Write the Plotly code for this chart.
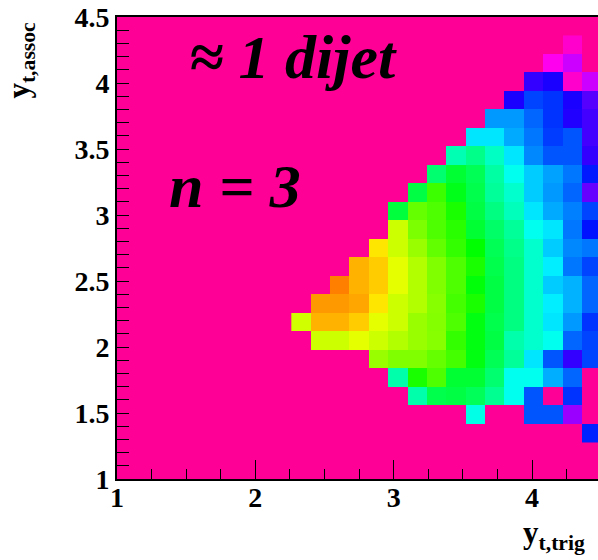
import colorsys
import numpy as np
import plotly.graph_objects as go

# Binning of the rapidity axes: 25 bins of width 0.14 starting at y_t = 1
BIN_WIDTH = 0.14
col_first, col_last = 9, 24      # populated trigger bins
row_first, row_last = 2, 23      # populated associated bins

x_edges = np.round(1 + BIN_WIDTH * np.arange(col_first, col_last + 2), 4)
y_edges = np.round(1 + BIN_WIDTH * np.arange(row_first, row_last + 2), 4)

N = None
# Pair density (arbitrary units), one list per associated-y_t bin, bottom to top;
# entries run over trigger bins col_first..col_last, None = empty bin
density = [
    [N, N, N, N, N, N, N, N, N, N, N, N, N, N, N, 88],
    [N, N, N, N, N, N, N, N, N, 146, N, N, 100, 100, 44, N],
    [N, N, N, N, N, N, 160, 182, 184, 179, 166, 144, 100, N, 92, N],
    [N, N, N, N, N, 160, 206, 218, 188, 188, 174, 144, 144, 121, 104, N],
    [N, N, N, N, 236, 230, 230, 224, 216, 196, 180, 164, 134, 100, 68, 96],
    [N, 248, 248, 254, 248, 242, 236, 232, 212, 196, 184, 160, 152, 144, 104, 96],
    [249, 278, 278, 272, 254, 248, 236, 231, 218, 196, 182, 170, 152, 134, 116, 92],
    [N, 284, 284, 281, 266, 248, 242, 232, 216, 206, 184, 170, 152, 136, 122, 104],
    [N, N, 290, 278, 272, 254, 242, 230, 218, 198, 184, 170, 152, 128, 122, 104],
    [N, N, N, 278, 272, 254, 242, 230, 218, 206, 182, 170, 152, 136, 108, 96],
    [N, N, N, N, 266, 248, 236, 223, 212, 200, 180, 168, 152, 128, 112, 108],
    [N, N, N, N, N, 248, 229, 218, 210, 188, 176, 164, 144, 134, 108, 84],
    [N, N, N, N, N, 186, 224, 218, 206, 184, 170, 156, 134, 120, 110, 96],
    [N, N, N, N, N, N, 184, 214, 194, 182, 164, 152, 128, 116, 104, 56],
    [N, N, N, N, N, N, N, 174, 188, 180, 162, 144, 128, 118, 108, 86],
    [N, N, N, N, N, N, N, N, 158, 168, 154, 134, 112, 100, 100, 68],
    [N, N, N, N, N, N, N, N, N, 134, 134, 120, 108, 94, 100, 64],
    [N, N, N, N, N, N, N, N, N, N, 116, 116, 104, 92, 72, 64],
    [N, N, N, N, N, N, N, N, N, N, N, 74, 96, 92, 74, 60],
    [N, N, N, N, N, N, N, N, N, N, N, N, 68, 74, 8, 32],
    [N, N, N, N, N, N, N, N, N, N, N, N, N, 16, 32, N],
    [N, N, N, N, N, N, N, N, N, N, N, N, N, N, 8, N],
]
z_min, z_max = 0, 290

x_ticks = [1, 2, 3, 4]
y_ticks = [1, 1.5, 2, 2.5, 3, 3.5, 4, 4.5]


def hue_rgb(h):
    r, g, b = colorsys.hsv_to_rgb((h % 360) / 360.0, 1.0, 1.0)
    return f"rgb({round(r * 255)},{round(g * 255)},{round(b * 255)})"


# rainbow palette running from magenta (low) through blue, green, yellow to orange (high)
stops = np.linspace(0, 1, 59)
palette = [[float(t), hue_rgb(320 - 290 * t)] for t in stops]

fig = go.Figure(
    go.Heatmap(
        x=x_edges,
        y=y_edges,
        z=density,
        zmin=z_min,
        zmax=z_max,
        colorscale=palette,
        showscale=False,
        hoverinfo="skip",
    )
)

tick_font = dict(family="Liberation Serif", size=28, color="black", weight="bold")

fig.update_xaxes(
    range=[1, 4.477],
    tickvals=x_ticks,
    ticktext=[str(v) for v in x_ticks],
    ticks="inside",
    ticklen=19,
    tickwidth=1,
    tickcolor="black",
    ticklabelstandoff=-8,
    minor=dict(dtick=0.25, tick0=1, ticks="inside", ticklen=10, tickwidth=1, tickcolor="black"),
    showline=True,
    linecolor="black",
    linewidth=2,
    mirror=True,
    showgrid=False,
    zeroline=False,
    tickfont=tick_font,
)
fig.update_yaxes(
    range=[1, 4.5],
    tickvals=y_ticks,
    ticktext=[f"{v:g}" for v in y_ticks],
    ticks="inside",
    ticklen=12,
    tickwidth=1,
    tickcolor="black",
    minor=dict(dtick=0.1, tick0=1, ticks="inside", ticklen=12, tickwidth=1, tickcolor="black"),
    showline=True,
    linecolor="black",
    linewidth=2,
    showgrid=False,
    zeroline=False,
    tickfont=tick_font,
)

label_font = dict(family="Liberation Serif", size=62, color="black", weight="bold", style="italic")
fig.add_annotation(
    x=2.272, y=4.2, xref="x", yref="y", text="≈ 1 dijet",
    showarrow=False, font=label_font, xanchor="center", yanchor="middle",
)
fig.add_annotation(
    x=1.85, y=3.22, xref="x", yref="y", text="n = 3",
    showarrow=False, font=label_font, xanchor="center", yanchor="middle",
)

title_font = dict(family="Liberation Serif", size=31, color="black", weight="bold")
fig.add_annotation(
    x=-0.2, y=0.995, xref="paper", yref="paper",
    text="y<sub>t,assoc</sub>", textangle=-90,
    showarrow=False, font=title_font, xanchor="center", yanchor="top",
)
fig.add_annotation(
    x=0.84, y=-0.074, xref="paper", yref="paper",
    text="y<sub>t,trig</sub>",
    showarrow=False, font=title_font, xanchor="left", yanchor="top",
)

fig.update_layout(
    width=598,
    height=560,
    margin=dict(l=117, r=0, t=17, b=81),
    paper_bgcolor="white",
    plot_bgcolor="#ff0096",
    showlegend=False,
)

fig.write_html("out.html")
